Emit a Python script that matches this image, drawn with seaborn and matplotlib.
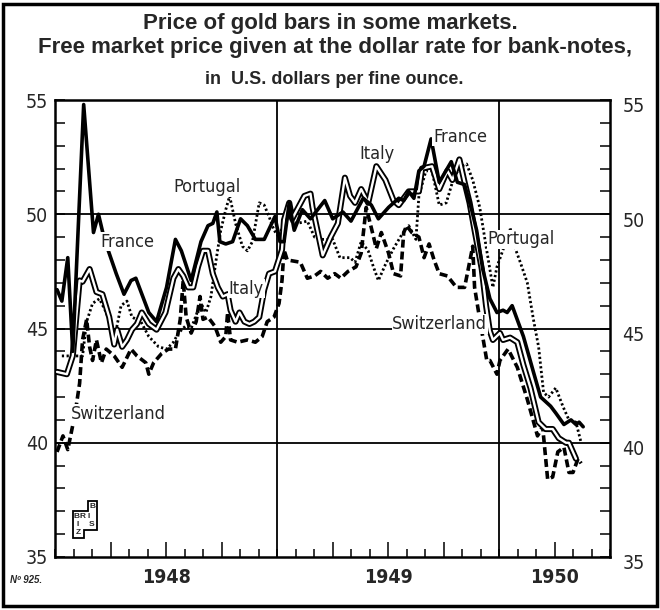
import matplotlib
matplotlib.use("Agg")
import matplotlib.pyplot as plt
from matplotlib.ticker import FixedLocator, MultipleLocator
from matplotlib.patches import Rectangle, Polygon
import seaborn as sns

# x values are months counted from 1 Jan 1948, y values in US$ per fine ounce
france_x = [0.11, 0.37, 0.69, 0.96, 1.55, 2.08, 2.35, 2.67, 3.31, 3.73, 4.11, 4.37, 5.07, 5.49,
            6.03, 6.51, 6.83, 7.36, 7.89, 8.27, 8.53, 8.75, 8.91, 9.23, 9.6, 10.03, 10.4, 10.83,
            11.31, 11.89, 12.16, 12.38, 12.66, 12.93, 13.37, 13.81, 14.58, 15.01, 15.56, 16.0,
            16.66, 17.1, 17.48, 18.03, 18.58, 18.85, 19.12, 19.4, 19.67, 19.95, 20.33, 20.77,
            21.42, 21.75, 22.14, 22.52, 22.79, 23.12, 23.51, 23.89, 24.22, 24.44, 24.71, 25.32,
            25.86, 26.25, 26.52, 26.79, 27.07, 27.51, 27.89, 28.16, 28.33, 28.55]
france_y = [46.7, 46.2, 48.1, 44.0, 54.8, 49.2, 50.0, 48.9, 47.4, 46.5, 47.1, 47.2, 45.7, 45.3,
            46.8, 48.9, 48.4, 47.1, 48.8, 49.5, 49.6, 50.1, 48.8, 48.7, 48.8, 49.8, 49.5, 48.9,
            48.9, 49.9, 48.8, 48.8, 50.5, 49.3, 50.2, 49.8, 50.6, 49.8, 50.1, 49.7,
            50.7, 50.4, 49.8, 50.3, 50.7, 50.6, 51.0, 50.7, 51.9, 52.1, 53.3, 51.4,
            52.3, 51.4, 51.3, 50.2, 49.3, 47.6, 46.3, 45.7, 45.8, 45.7, 46.0, 44.65,
            43.1, 42.0, 41.8, 41.6, 41.3, 40.8, 41.0, 40.8, 40.9, 40.7]

italy_x = [0.11, 0.64, 0.96, 1.33, 1.49, 1.87, 2.24, 2.56, 2.93, 3.2, 3.36, 3.63, 3.89, 4.16,
           4.43, 4.69, 5.07, 5.49, 5.97, 6.4, 6.67, 6.93, 7.2, 7.47, 7.73, 8.0, 8.27, 8.53,
           8.8, 9.07, 9.33, 9.49, 9.76, 9.97, 10.24, 10.51, 10.77, 11.04, 11.31, 11.57, 11.89,
           12.27, 12.38, 12.66, 12.82, 13.48, 13.81, 13.92, 14.47, 14.9, 15.29, 15.67, 15.95,
           16.22, 16.55, 16.93, 17.37, 17.86, 18.3, 18.58, 19.12, 19.67, 19.84, 20.38, 20.77,
           21.21, 21.48, 21.86, 22.14, 22.41, 22.68, 23.07, 23.3, 23.5, 23.67, 24.05, 24.22,
           24.6, 24.99, 25.32, 25.7, 26.14, 26.52, 26.9, 27.23, 27.62, 27.78, 28.16]
italy_y = [43.1, 43.0, 43.8, 47.1, 47.05, 47.6, 46.6, 46.5, 45.5, 44.3, 44.95, 44.2, 44.5, 44.95,
           45.2, 45.7, 45.2, 44.95, 45.7, 47.2, 47.6, 47.3, 46.8, 46.8, 47.7, 48.4, 48.4, 47.4,
           46.8, 46.4, 46.5, 45.8, 45.3, 45.7, 45.3, 45.2, 45.3, 45.5, 46.7, 47.4, 47.5,
           48.45, 49.75, 50.5, 49.8, 50.8, 50.9, 50.3, 48.2, 49.0, 49.6, 51.6, 50.8,
           50.5, 51.1, 50.5, 52.1, 51.5, 50.6, 50.4, 51.0, 51.0, 52.0, 52.1, 51.1,
           51.9, 51.5, 52.4, 51.4, 50.5, 49.3, 47.6, 46.0, 44.9, 44.5, 44.8, 44.5,
           44.6, 44.4, 43.4, 42.4, 40.9, 40.6, 40.6, 40.2, 40.0, 40.0, 39.3]

portugal_x = [0.37, 1.49, 1.71, 2.03, 2.4, 2.77, 3.09, 3.31, 3.57, 3.89, 4.16, 4.64, 5.07, 5.6,
              6.03, 6.4, 6.67, 7.04, 7.36, 7.73, 7.89, 8.16, 8.43, 8.69, 8.96, 9.23, 9.44, 9.76,
              10.13, 10.4, 10.67, 11.04, 11.31, 11.57, 11.84, 12.11, 12.44, 13.1, 13.64, 14.03,
              14.47, 15.01, 15.4, 15.95, 16.22, 16.55, 16.93, 17.21, 17.48, 17.86, 18.3, 18.74,
              19.12, 19.51, 19.67, 20.05, 20.38, 20.77, 21.15, 21.59, 21.97, 22.25, 22.58, 22.96,
              23.34, 23.67, 23.89, 24.22, 24.6, 24.88, 25.15, 25.53, 25.86, 26.14, 26.41, 26.68,
              27.07, 27.45, 27.78, 28.16, 28.44]
portugal_y = [43.8, 43.8, 45.3, 46.1, 46.3, 45.7, 44.95, 44.95, 46.0, 46.2, 45.5, 45.3, 44.65, 44.2,
              44.1, 44.4, 44.8, 45.1, 45.0, 45.8, 46.1, 45.7, 46.4, 47.9, 49.3, 50.2, 50.8, 49.6,
              48.6, 48.4, 48.8, 50.5, 50.4, 49.9, 49.3, 49.0, 49.8, 49.6, 49.7, 49.0,
              48.9, 48.9, 48.1, 48.1, 47.9, 48.8, 48.4, 47.7, 47.1, 47.8, 48.5, 49.1,
              49.5, 48.9, 50.8, 51.9, 51.9, 50.4, 50.5, 51.7, 52.1, 52.2, 51.5, 50.3,
              48.4, 46.8, 47.7, 48.45, 49.4, 48.5, 47.9, 47.0, 45.4, 44.2, 42.2, 42.0,
              42.4, 41.6, 41.0, 40.9, 40.0]

switzerland_x = [0.11, 0.43, 0.69, 1.07, 1.33, 1.49, 1.71, 1.87, 2.03, 2.24, 2.51, 2.77, 3.2, 3.63,
                 4.11, 4.43, 4.91, 5.07, 5.33, 5.76, 6.13, 6.51, 6.77, 6.93, 7.09, 7.36, 7.63, 7.84,
                 8.0, 8.27, 8.64, 8.96, 9.23, 9.33, 9.49, 9.87, 10.4, 10.83, 11.2, 11.47, 11.84,
                 12.11, 12.27, 12.38, 12.55, 13.26, 13.64, 14.03, 14.36, 14.74, 15.12, 15.45, 15.84,
                 16.27, 16.55, 16.82, 17.1, 17.37, 17.64, 18.03, 18.3, 18.68, 18.85, 19.01, 19.29,
                 19.67, 19.95, 20.22, 20.49, 20.77, 21.21, 21.7, 22.14, 22.41, 22.58, 22.68, 22.96,
                 23.34, 23.51, 23.89, 24.05, 24.49, 24.99, 25.53, 26.08, 26.36, 26.63, 26.9, 27.18,
                 27.51, 27.78, 28.0, 28.27, 28.44]
switzerland_y = [39.6, 40.3, 39.7, 41.2, 42.6, 44.5, 45.4, 44.2, 43.6, 44.5, 43.5, 44.1, 43.8, 43.3,
                 44.1, 43.8, 43.5, 43.0, 43.5, 43.9, 44.1, 44.1, 45.4, 47.1, 45.5, 44.8, 45.3, 46.4,
                 45.4, 45.5, 45.1, 44.4, 44.65, 45.7, 44.5, 44.4, 44.5, 44.4, 44.65, 45.3, 45.5,
                 46.1, 47.1, 48.45, 48.0, 47.9, 47.2, 47.3, 47.5, 47.2, 47.4, 47.2, 47.5,
                 47.7, 48.3, 50.3, 49.4, 48.5, 49.2, 48.3, 47.4, 47.3, 49.2, 49.5, 49.2,
                 49.0, 48.1, 48.7, 48.0, 47.4, 47.3, 46.8, 46.8, 47.9, 48.6, 46.8, 45.4,
                 43.6, 43.6, 43.0, 43.6, 44.1, 43.3, 41.9, 40.3, 40.7, 38.4, 38.5, 39.6,
                 39.8, 38.7, 38.7, 39.3, 39.1]

# curve labels: (text, month, value)
curve_labels = [("France", 3.9, 48.8), ("Portugal", 8.2, 51.2), ("Italy", 10.35, 46.75),
                ("Switzerland", 3.4, 41.25), ("Italy", 17.4, 52.65), ("France", 21.9, 53.4),
                ("Switzerland", 20.8, 45.2), ("Portugal", 25.2, 48.9)]
years = ["1948", "1949", "1950"]
year_pos = [6, 18, 27]
y_ticks = [35, 40, 45, 50, 55]

sns.set_style("white")
plt.rcParams["font.family"] = ["Liberation Sans", "DejaVu Sans"]
narrow = dict(family="DejaVu Sans", stretch="condensed")

fig = plt.figure(figsize=(6.6, 6.1), dpi=100)
ax = fig.add_axes([55 / 660, 1 - 557 / 610, (610 - 55) / 660, (557 - 100) / 610])

# grid lines of the printed chart
for v in [40, 45, 50]:
    ax.axhline(v, color="black", lw=1.3, zorder=1)
for m in [12, 24]:
    ax.axvline(m, color="black", lw=1.3, zorder=1)

kw = dict(ax=ax, estimator=None, sort=False, legend=False)
sns.lineplot(x=switzerland_x, y=switzerland_y, color="black", lw=2.6,
             linestyle=(0, (2.2, 1.1)), zorder=3, **kw)
sns.lineplot(x=portugal_x, y=portugal_y, color="black", lw=2.0,
             linestyle=(0, (0.8, 0.9)), zorder=3, **kw)
sns.lineplot(x=italy_x, y=italy_y, color="black", lw=4.4, zorder=4, **kw)
sns.lineplot(x=italy_x, y=italy_y, color="white", lw=1.7, zorder=5, **kw)
sns.lineplot(x=france_x, y=france_y, color="black", lw=2.6, zorder=6, **kw)

for name, m, v in curve_labels:
    ax.text(m, v, name, ha="center", va="center", fontsize=13, zorder=7,
            bbox=dict(facecolor="white", edgecolor="none", pad=0.5), **narrow)

ax.set_xlim(0, 30)
ax.set_ylim(35, 55)
ax.set_xlabel("")
ax.set_ylabel("")
ax.xaxis.set_major_locator(FixedLocator([3, 6, 9, 15, 18, 21, 27]))
ax.xaxis.set_minor_locator(MultipleLocator(1))
ax.tick_params(axis="x", which="major", direction="in", length=11, width=1.3,
               bottom=True, top=False, labelbottom=False)
ax.tick_params(axis="x", which="minor", direction="in", length=6, width=1.3,
               bottom=True, top=False)
ax.set_yticks(y_ticks)
ax.yaxis.set_minor_locator(MultipleLocator(1))
ax.tick_params(axis="y", which="both", direction="in", length=7, width=1.3,
               left=True, right=True, labelleft=True, labelright=False, pad=5)
ax.set_yticklabels([str(t) for t in y_ticks], fontsize=14, **narrow)
for t in y_ticks:
    ax.annotate(str(t), xy=(1, t), xycoords=("axes fraction", "data"), xytext=(9, -5),
                textcoords="offset points", ha="left", va="center", fontsize=14, **narrow)
for yr, m in zip(years, year_pos):
    ax.annotate(yr, xy=(m, 0), xycoords=("data", "axes fraction"), xytext=(0, -15),
                textcoords="offset points", ha="center", va="center", fontsize=14,
                weight="bold", **narrow)
for s in ax.spines.values():
    s.set_linewidth(1.8)
    s.set_color("black")

fig.text(0.5, 1 - 23 / 610, "Price of gold bars in some markets.", ha="center",
         va="center", fontsize=16, weight="bold")
fig.text(0.507, 1 - 48 / 610, "Free market price given at the dollar rate for bank-notes,",
         ha="center", va="center", fontsize=16, weight="bold")
fig.text(0.506, 1 - 80 / 610, "in  U.S. dollars per fine ounce.", ha="center",
         va="center", fontsize=13, weight="bold")
fig.text(10 / 660, 1 - 580 / 610, "Nº 925.", ha="left", va="center", fontsize=7,
         style="italic", weight="bold")

# small BIS logo in the lower left corner
px = lambda x, y: (x / 660, 1 - y / 610)
logo = Polygon([px(73, 511), px(88, 511), px(88, 501), px(97, 501), px(97, 530),
                px(84, 530), px(84, 538), px(73, 538)], closed=True, fill=False,
               edgecolor="black", lw=1.3, transform=fig.transFigure)
fig.add_artist(logo)
for ch, x, y in [("B", 92, 506), ("B", 77, 517), ("R", 83, 517), ("I", 89, 517),
                 ("I", 78, 525), ("S", 92, 524), ("Z", 78, 533)]:
    fig.text(x / 660, 1 - y / 610, ch, ha="center", va="center", fontsize=6, weight="bold")

fig.add_artist(Rectangle((3 / 660, 4 / 610), 654 / 660, 602 / 610, fill=False,
                         edgecolor="black", lw=2.5, transform=fig.transFigure))

fig.savefig("out.png", dpi=100, facecolor="white")
